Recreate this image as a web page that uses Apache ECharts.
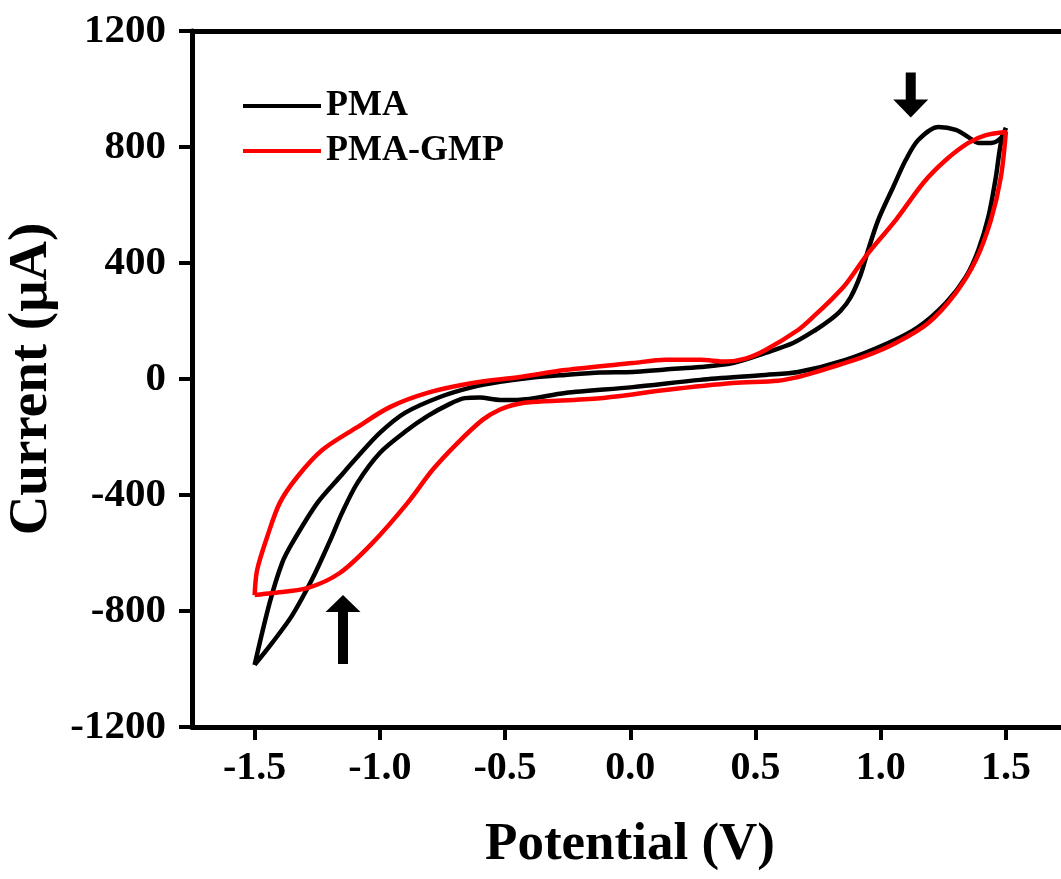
<!DOCTYPE html>
<html>
<head>
<meta charset="utf-8">
<script src="https://cdn.jsdelivr.net/npm/echarts@6/dist/echarts.min.js"></script>
<style>
  html, body { margin: 0; padding: 0; background: #fff; }
  #chart { width: 1061px; height: 879px; }
</style>
</head>
<body>
<div id="chart"></div>
<script>
// PMA, forward sweep (-1.5 -> 1.5 V)
var pmaFwdV = [-1.50,-1.44,-1.39,-1.35,-1.25,-1.16,-1.09,-1.00,-0.90,-0.76,-0.63,-0.52,-0.39,-0.26,-0.12,0.01,0.14,0.28,0.41,0.54,0.65,0.74,0.80,0.84,0.88,0.92,0.95,0.99,1.05,1.10,1.15,1.23,1.30,1.35,1.39,1.44,1.48,1.50];
var pmaFwdI = [-986,-772,-634,-566,-428,-338,-269,-186,-117,-62,-28,-10,5,14,22,24,33,41,55,90,124,169,205,235,282,360,445,548,662,755,824,869,859,834,814,814,831,866];
// PMA, reverse sweep (1.5 -> -1.5 V)
var pmaRevV = [1.48,1.46,1.43,1.39,1.34,1.26,1.15,1.03,0.86,0.67,0.54,0.28,0.01,-0.26,-0.45,-0.52,-0.60,-0.66,-0.73,-0.81,-0.89,-1.00,-1.09,-1.15,-1.20,-1.27,-1.35,-1.43,-1.50];
var pmaRevI = [814,697,559,445,352,262,179,124,66,24,14,-3,-28,-48,-72,-72,-64,-66,-90,-128,-176,-255,-359,-460,-560,-690,-815,-910,-986];

// PMA-GMP, forward sweep
var gmpFwdV = [-1.50,-1.49,-1.45,-1.40,-1.33,-1.23,-1.09,-0.96,-0.81,-0.63,-0.44,-0.26,0.01,0.14,0.28,0.38,0.46,0.54,0.67,0.73,0.81,0.86,0.95,1.06,1.17,1.26,1.35,1.42,1.50];
var gmpFwdI = [-745,-659,-545,-428,-338,-245,-166,-97,-48,-14,7,31,55,66,66,60,70,100,169,214,280,326,434,548,676,755,814,841,852];
// PMA-GMP, reverse sweep
var gmpRevV = [1.48,1.44,1.38,1.30,1.19,1.06,0.93,0.73,0.67,0.59,0.41,0.14,-0.12,-0.39,-0.45,-0.52,-0.59,-0.69,-0.79,-0.89,-1.03,-1.16,-1.29,-1.43,-1.50];
var gmpRevI = [697,548,410,297,193,124,76,21,7,-6,-14,-38,-66,-79,-86,-105,-141,-221,-314,-428,-566,-669,-721,-738,-745];

var xTicks = [-1.5,-1.0,-0.5,0.0,0.5,1.0,1.5];
var names = ['PMA','PMA-GMP'];
var arrowDown = [1.12, 979];
var arrowUp = [-1.147, -864];

function zip(v, i) {
  var out = [];
  for (var k = 0; k < v.length; k++) out.push([v[k], i[k]]);
  return out;
}

var font = "'Liberation Serif', 'Times New Roman', serif";
var pmaData = zip(pmaFwdV, pmaFwdI).concat(zip(pmaRevV, pmaRevI));
var gmpData = zip(gmpFwdV, gmpFwdI).concat(zip(gmpRevV, gmpRevI));

var chart = echarts.init(document.getElementById('chart'));
chart.setOption({
  animation: false,
  backgroundColor: '#fff',
  grid: { left: 192, right: 0, top: 31, bottom: 152, outerBoundsMode: 'none' },
  legend: {
    data: names,
    orient: 'vertical',
    left: 238,
    top: 83,
    icon: 'rect',
    itemWidth: 78,
    itemHeight: 4,
    itemGap: 9,
    textStyle: { fontFamily: font, fontWeight: 'bold', fontSize: 36, lineHeight: 36, color: '#000' }
  },
  xAxis: [{
    type: 'value',
    min: -1.75,
    max: 1.72,
    name: 'Potential (V)',
    nameLocation: 'middle',
    nameGap: 92,
    nameTextStyle: { fontFamily: font, fontWeight: 'bold', fontSize: 53, color: '#000', padding: [0, 0, 0, 7] },
    axisLine: { onZero: false, lineStyle: { color: '#000', width: 5 } },
    axisTick: { customValues: xTicks, length: 13, lineStyle: { color: '#000', width: 4 } },
    axisLabel: {
      customValues: xTicks,
      margin: 22,
      fontFamily: font, fontWeight: 'bold', fontSize: 40, color: '#000',
      formatter: function (v) { return v.toFixed(1); }
    },
    splitLine: { show: false }
  }, {
    type: 'value',
    position: 'top',
    min: -1.75,
    max: 1.72,
    axisLine: { show: true, onZero: false, lineStyle: { color: '#000', width: 5 } },
    axisTick: { show: false },
    axisLabel: { show: false },
    splitLine: { show: false }
  }],
  yAxis: {
    type: 'value',
    min: -1200,
    max: 1200,
    interval: 400,
    name: 'Current (\u03bcA)',
    nameLocation: 'middle',
    nameGap: 120,
    nameTextStyle: { fontFamily: font, fontWeight: 'bold', fontSize: 55, color: '#000' },
    axisLine: { show: true, onZero: false, lineStyle: { color: '#000', width: 5 } },
    axisTick: { length: 13, lineStyle: { color: '#000', width: 4 } },
    axisLabel: {
      margin: 26, fontFamily: font, fontWeight: 'bold', fontSize: 41, color: '#000',
      formatter: function (v) { return String(v); }
    },
    splitLine: { show: false }
  },
  series: [{
    name: names[0],
    type: 'line',
    data: pmaData,
    showSymbol: false,
    smooth: 0.3,
    color: '#000',
    lineStyle: { color: '#000', width: 4.5 },
    markPoint: {
      silent: true,
      label: { show: false },
      itemStyle: { color: '#000' },
      data: [
        { coord: arrowDown, symbol: 'path://M12.5,0 L22.5,0 L22.5,27 L35,27 L17.5,45 L0,27 L12.5,27 Z', symbolSize: [35, 45] },
        { coord: arrowUp, symbol: 'path://M17.5,0 L35,17 L22.5,17 L22.5,69 L12.5,69 L12.5,17 L0,17 Z', symbolSize: [35, 69] }
      ]
    }
  }, {
    name: names[1],
    type: 'line',
    data: gmpData,
    showSymbol: false,
    smooth: 0.3,
    color: '#ff0000',
    lineStyle: { color: '#ff0000', width: 4.5 }
  }]
});
</script>
</body>
</html>
